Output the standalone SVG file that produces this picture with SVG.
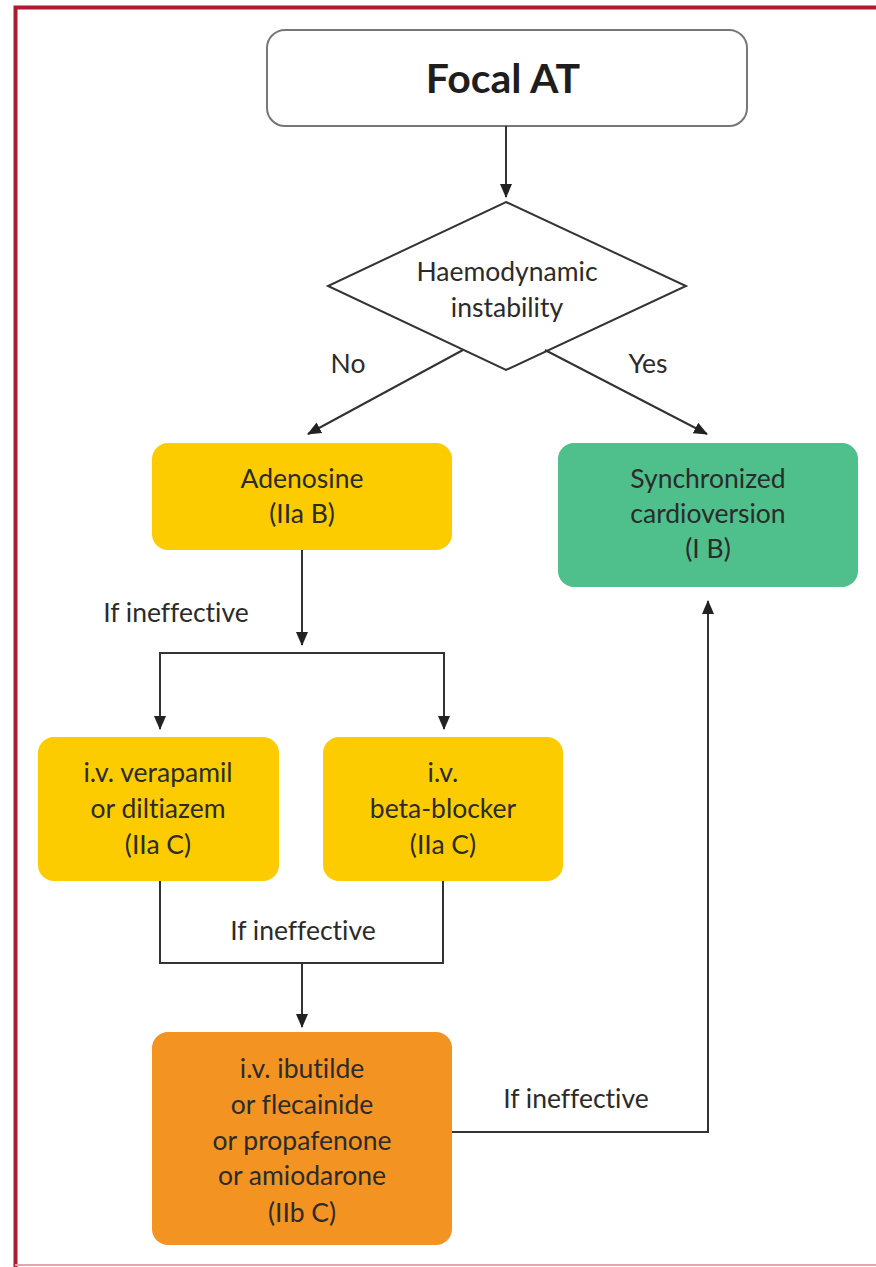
<svg xmlns="http://www.w3.org/2000/svg" width="876" height="1267" viewBox="0 0 876 1267">
<defs>
<style>
.t{font-family:Lato,"Open Sans","Liberation Sans",sans-serif;font-size:26.5px;fill:#2b2b2b;text-anchor:middle;font-variant-ligatures:none}
.b{font-weight:bold;font-size:41px;fill:#1e1e1e}
.c{fill:none;stroke:#333;stroke-width:2}
.y{fill:#FCCC00}
</style>
<marker id="ah" markerWidth="14" markerHeight="14" refX="13" refY="7" orient="auto" markerUnits="userSpaceOnUse">
<path d="M0,1 L14,7 L0,13 Z" fill="#222"/>
</marker>
</defs>
<rect width="876" height="1267" fill="#fff"/>
<g id="frame">
<path d="M15.5,1267 V7.5 H876" fill="none" stroke="#B01A30" stroke-width="4"/>
<line x1="15" y1="1265" x2="876" y2="1265" stroke="#E9A3AC" stroke-width="2"/>
</g>
<g id="n_focal">
<rect x="267" y="30" width="480" height="96" rx="18" fill="#fff" stroke="#777" stroke-width="2"/>
<text class="t b" x="503" y="93">Focal AT</text>
</g>
<g id="n_decision">
<polygon points="506,202 686,286 506,370 328,286" fill="#fff" stroke="#333" stroke-width="2"/>
<text class="t" x="507" y="281">Haemodynamic</text>
<text class="t" x="507" y="317">instability</text>
</g>
<g id="n_adenosine">
<rect class="y" x="152" y="443" width="300" height="107" rx="16"/>
<text class="t" x="302" y="488">Adenosine</text>
<text class="t" x="302" y="523">(IIa B)</text>
</g>
<g id="n_cardioversion">
<rect x="558" y="443" width="300" height="144" rx="16" fill="#4FBF8B"/>
<text class="t" x="708" y="488">Synchronized</text>
<text class="t" x="708" y="523">cardioversion</text>
<text class="t" x="708" y="558">(I B)</text>
</g>
<g id="n_verapamil">
<rect class="y" x="38" y="737" width="241" height="144" rx="16"/>
<text class="t" x="158" y="782">i.v. verapamil</text>
<text class="t" x="158" y="818">or diltiazem</text>
<text class="t" x="158" y="854">(IIa C)</text>
</g>
<g id="n_beta">
<rect class="y" x="323" y="737" width="240" height="144" rx="16"/>
<text class="t" x="443" y="782">i.v.</text>
<text class="t" x="443" y="818">beta-blocker</text>
<text class="t" x="443" y="854">(IIa C)</text>
</g>
<g id="n_antiarrhythmic">
<rect x="152" y="1032" width="300" height="213" rx="16" fill="#F39322"/>
<text class="t" x="302" y="1078">i.v. ibutilde</text>
<text class="t" x="302" y="1114">or flecainide</text>
<text class="t" x="302" y="1150">or propafenone</text>
<text class="t" x="302" y="1185">or amiodarone</text>
<text class="t" x="302" y="1222">(IIb C)</text>
</g>
<g id="connectors">
<line class="c" x1="506" y1="126" x2="506" y2="197" marker-end="url(#ah)"/>
<line class="c" x1="463" y1="350" x2="308" y2="434" marker-end="url(#ah)"/>
<line class="c" x1="545" y1="350" x2="707" y2="434" marker-end="url(#ah)"/>
<line class="c" x1="302" y1="550" x2="302" y2="645" marker-end="url(#ah)"/>
<line class="c" x1="160" y1="653" x2="444" y2="653"/>
<line class="c" x1="160" y1="652" x2="160" y2="729" marker-end="url(#ah)"/>
<line class="c" x1="444" y1="652" x2="444" y2="729" marker-end="url(#ah)"/>
<path class="c" d="M160,881 V963 H443 V881"/>
<line class="c" x1="302" y1="963" x2="302" y2="1027" marker-end="url(#ah)"/>
<polyline class="c" points="452,1132 708,1132 708,601" marker-end="url(#ah)"/>
<text class="t" x="348" y="373">No</text>
<text class="t" x="648" y="373">Yes</text>
<text class="t" x="176" y="622">If ineffective</text>
<text class="t" x="303" y="940">If ineffective</text>
<text class="t" x="576" y="1108">If ineffective</text>
</g>
</svg>
